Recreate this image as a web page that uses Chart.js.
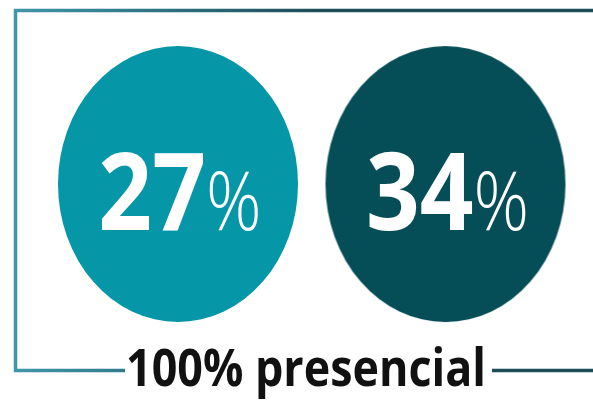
<!DOCTYPE html>
<html>
<head>
<meta charset="utf-8">
<script src="https://cdn.jsdelivr.net/npm/chart.js@4/dist/chart.umd.min.js"></script>
<style>
  html, body { margin: 0; padding: 0; background: #fff; }
  #wrap { width: 593px; height: 401px; }
</style>
</head>
<body>
<div id="wrap"><canvas id="chart" width="593" height="401"></canvas></div>
<script>
// data
const categories = ["A", "B"];
const values = [27, 34];
const colors = ["#0596a8", "#064e57"];
const caption = "100% presencial";

// ellipse image used as the point style
function ellipseImg(color) {
  const c = document.createElement("canvas");
  c.width = 242; c.height = 278;
  const g = c.getContext("2d");
  g.fillStyle = color;
  g.beginPath();
  g.ellipse(121, 139, 120, 138, 0, 0, Math.PI * 2);
  g.fill();
  return c;
}

function drawScaled(ctx, text, x, y, sx) {
  ctx.save();
  ctx.translate(x, y);
  ctx.scale(sx, 1);
  ctx.fillText(text, 0, 0);
  ctx.restore();
}

const framePlugin = {
  id: "frame",
  beforeDatasetsDraw(chart) {
    const ctx = chart.ctx;
    const W = chart.width;
    const grad = ctx.createLinearGradient(13, 0, 320, 0);
    grad.addColorStop(0, "#3f96aa");
    grad.addColorStop(1, "#1c4d57");
    ctx.save();
    ctx.strokeStyle = grad;
    ctx.lineCap = "butt";
    // top + left
    ctx.lineWidth = 3.5;
    ctx.beginPath();
    ctx.moveTo(W + 5, 10.5);
    ctx.lineTo(15.5, 10.5);
    ctx.lineTo(15.5, 370.5);
    ctx.lineTo(125, 370.5);
    ctx.stroke();
    // caption and right part of bottom line
    ctx.font = "bold 52px 'Open Sans'";
    const tw = ctx.measureText(caption).width;
    const sx = 360 / tw;
    ctx.beginPath();
    ctx.moveTo(492, 370.5);
    ctx.lineTo(W + 5, 370.5);
    ctx.stroke();
    ctx.fillStyle = "#111";
    ctx.textBaseline = "alphabetic";
    ctx.textAlign = "left";
    drawScaled(ctx, caption, 126, 386, sx);
    ctx.restore();
  },
  afterDatasetsDraw(chart) {
    const ctx = chart.ctx;
    const meta = chart.getDatasetMeta(0);
    ctx.save();
    ctx.fillStyle = "#fff";
    ctx.textBaseline = "alphabetic";
    ctx.textAlign = "left";
    meta.data.forEach((pt, i) => {
      const num = String(values[i]);
      ctx.font = "bold 107px 'Open Sans'";
      const nw = ctx.measureText(num).width * 0.88;
      ctx.font = "300 81px 'Open Sans'";
      const pw = ctx.measureText("%").width * 0.85;
      const total = nw + pw;
      let x0 = pt.x - total / 2 + 2;
      ctx.font = "bold 107px 'Open Sans'";
      drawScaled(ctx, num, x0, pt.y + 46, 0.88);
      ctx.font = "300 81px 'Open Sans'";
      drawScaled(ctx, "%", x0 + nw, pt.y + 46, 0.85);
    });
    ctx.restore();
  }
};

new Chart(document.getElementById("chart"), {
  type: "scatter",
  data: {
    datasets: [{
      data: categories.map((c, i) => ({ x: i, y: 0 })),
      pointStyle: colors.map(ellipseImg),
      pointRadius: 120,
      pointHoverRadius: 120,
      clip: false
    }]
  },
  options: {
    responsive: false,
    animation: false,
    events: [],
    layout: { padding: 0, autoPadding: false },
    scales: {
      x: { display: false, min: -0.6654, max: 1.5514 },
      y: { display: false, min: -1.1364, max: 0.9636 }
    },
    plugins: { legend: { display: false }, tooltip: { enabled: false } }
  },
  plugins: [framePlugin]
});
</script>
</body>
</html>
